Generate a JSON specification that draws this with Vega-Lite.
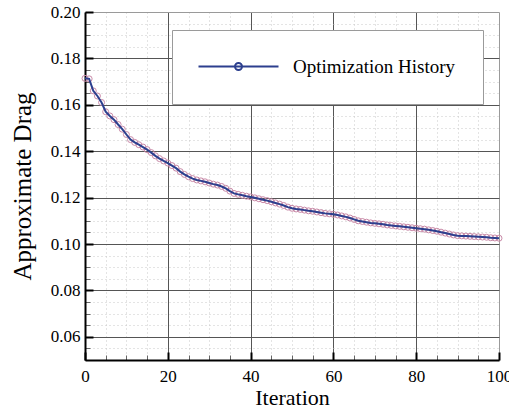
{
  "$schema": "https://vega.github.io/schema/vega-lite/v6.json",
  "width": 414,
  "height": 348,
  "autosize": {"type": "none"},
  "padding": {"left": 85, "top": 12, "right": 10, "bottom": 54},
  "config": {
    "view": {"stroke": null},
    "font": "Liberation Serif",
    "axis": {
      "labelFont": "Liberation Serif",
      "titleFont": "Liberation Serif",
      "labelColor": "#000000",
      "titleColor": "#000000",
      "titleFontWeight": "normal"
    }
  },
  "data": {
    "values": [
      {"iteration": 0, "drag": 0.1714}, {"iteration": 1, "drag": 0.1712}, {"iteration": 2, "drag": 0.1660},
      {"iteration": 3, "drag": 0.1638}, {"iteration": 4, "drag": 0.1610}, {"iteration": 5, "drag": 0.1570},
      {"iteration": 6, "drag": 0.1552}, {"iteration": 7, "drag": 0.1536}, {"iteration": 8, "drag": 0.1515},
      {"iteration": 9, "drag": 0.1495}, {"iteration": 10, "drag": 0.1472}, {"iteration": 11, "drag": 0.1450},
      {"iteration": 12, "drag": 0.1438}, {"iteration": 13, "drag": 0.1428}, {"iteration": 14, "drag": 0.1418},
      {"iteration": 15, "drag": 0.1407}, {"iteration": 16, "drag": 0.1394}, {"iteration": 17, "drag": 0.1380},
      {"iteration": 18, "drag": 0.1368}, {"iteration": 19, "drag": 0.1358}, {"iteration": 20, "drag": 0.1349},
      {"iteration": 21, "drag": 0.1338}, {"iteration": 22, "drag": 0.1327}, {"iteration": 23, "drag": 0.1312},
      {"iteration": 24, "drag": 0.1300}, {"iteration": 25, "drag": 0.1290}, {"iteration": 26, "drag": 0.1282},
      {"iteration": 27, "drag": 0.1276}, {"iteration": 28, "drag": 0.1272}, {"iteration": 29, "drag": 0.1268},
      {"iteration": 30, "drag": 0.1263}, {"iteration": 31, "drag": 0.1258}, {"iteration": 32, "drag": 0.1254},
      {"iteration": 33, "drag": 0.1248}, {"iteration": 34, "drag": 0.1240}, {"iteration": 35, "drag": 0.1228},
      {"iteration": 36, "drag": 0.1218}, {"iteration": 37, "drag": 0.1214}, {"iteration": 38, "drag": 0.1210},
      {"iteration": 39, "drag": 0.1206}, {"iteration": 40, "drag": 0.1203}, {"iteration": 41, "drag": 0.1199},
      {"iteration": 42, "drag": 0.1195}, {"iteration": 43, "drag": 0.1191}, {"iteration": 44, "drag": 0.1187},
      {"iteration": 45, "drag": 0.1182}, {"iteration": 46, "drag": 0.1177}, {"iteration": 47, "drag": 0.1172},
      {"iteration": 48, "drag": 0.1166}, {"iteration": 49, "drag": 0.1159}, {"iteration": 50, "drag": 0.1154},
      {"iteration": 51, "drag": 0.1151}, {"iteration": 52, "drag": 0.1149}, {"iteration": 53, "drag": 0.1146},
      {"iteration": 54, "drag": 0.1143}, {"iteration": 55, "drag": 0.1141}, {"iteration": 56, "drag": 0.1138},
      {"iteration": 57, "drag": 0.1135}, {"iteration": 58, "drag": 0.1132}, {"iteration": 59, "drag": 0.1130},
      {"iteration": 60, "drag": 0.1128}, {"iteration": 61, "drag": 0.1125}, {"iteration": 62, "drag": 0.1121},
      {"iteration": 63, "drag": 0.1117}, {"iteration": 64, "drag": 0.1112}, {"iteration": 65, "drag": 0.1106},
      {"iteration": 66, "drag": 0.1100}, {"iteration": 67, "drag": 0.1097}, {"iteration": 68, "drag": 0.1094},
      {"iteration": 69, "drag": 0.1091}, {"iteration": 70, "drag": 0.1089}, {"iteration": 71, "drag": 0.1087},
      {"iteration": 72, "drag": 0.1085}, {"iteration": 73, "drag": 0.1082}, {"iteration": 74, "drag": 0.1080},
      {"iteration": 75, "drag": 0.1078}, {"iteration": 76, "drag": 0.1076}, {"iteration": 77, "drag": 0.1074},
      {"iteration": 78, "drag": 0.1072}, {"iteration": 79, "drag": 0.1070}, {"iteration": 80, "drag": 0.1068},
      {"iteration": 81, "drag": 0.1066}, {"iteration": 82, "drag": 0.1064}, {"iteration": 83, "drag": 0.1061},
      {"iteration": 84, "drag": 0.1058}, {"iteration": 85, "drag": 0.1055}, {"iteration": 86, "drag": 0.1051},
      {"iteration": 87, "drag": 0.1047}, {"iteration": 88, "drag": 0.1043}, {"iteration": 89, "drag": 0.1039},
      {"iteration": 90, "drag": 0.1036}, {"iteration": 91, "drag": 0.1035}, {"iteration": 92, "drag": 0.1034},
      {"iteration": 93, "drag": 0.1033}, {"iteration": 94, "drag": 0.1032}, {"iteration": 95, "drag": 0.1031},
      {"iteration": 96, "drag": 0.1030}, {"iteration": 97, "drag": 0.1029}, {"iteration": 98, "drag": 0.1027},
      {"iteration": 99, "drag": 0.1026}, {"iteration": 100, "drag": 0.1025}
    ]
  },
  "layer": [
    {
      "description": "Minor grid: dotted lines and short inward ticks every 5 iterations / 0.005 drag",
      "mark": {"type": "point", "opacity": 0},
      "encoding": {
        "x": {
          "field": "iteration", "type": "quantitative",
          "scale": {"domain": [0, 100], "nice": false, "zero": false},
          "axis": {
            "orient": "bottom",
            "values": [5, 10, 15, 25, 30, 35, 45, 50, 55, 65, 70, 75, 85, 90, 95],
            "grid": true, "gridColor": "#c8c8c8", "gridDash": [1, 3], "gridWidth": 1,
            "ticks": true, "tickSize": -5, "tickColor": "#666666", "tickWidth": 1,
            "labels": false, "domain": false, "title": null
          }
        },
        "y": {
          "field": "drag", "type": "quantitative",
          "scale": {"domain": [0.05, 0.2], "nice": false, "zero": false},
          "axis": {
            "orient": "left",
            "values": [0.055, 0.065, 0.07, 0.075, 0.085, 0.09, 0.095, 0.105, 0.11, 0.115, 0.125, 0.13, 0.135, 0.145, 0.15, 0.155, 0.165, 0.17, 0.175, 0.185, 0.19, 0.195],
            "grid": true, "gridColor": "#c8c8c8", "gridDash": [1, 3], "gridWidth": 1,
            "ticks": true, "tickSize": -5, "tickColor": "#666666", "tickWidth": 1,
            "labels": false, "domain": false, "title": null
          }
        }
      }
    },
    {
      "description": "Markers at every iteration",
      "mark": {"type": "point", "shape": "circle", "filled": false, "size": 36, "stroke": "#c98aa8", "strokeWidth": 1, "opacity": 1},
      "encoding": {
        "x": {"field": "iteration", "type": "quantitative", "axis": null},
        "y": {"field": "drag", "type": "quantitative", "axis": null}
      }
    },
    {
      "description": "Optimization history line with the main axes and legend",
      "mark": {"type": "line", "strokeWidth": 2},
      "encoding": {
        "x": {
          "field": "iteration", "type": "quantitative",
          "axis": {
            "orient": "bottom",
            "values": [0, 20, 40, 60, 80, 100],
            "grid": true,
            "gridColor": {"condition": {"test": "datum.value == 100", "value": "#9a9a9a"}, "value": "#555555"},
            "gridWidth": 1,
            "ticks": true, "tickSize": -8, "tickColor": "#000000", "tickWidth": 2,
            "domain": true, "domainColor": "#000000", "domainWidth": 2,
            "labelFontSize": 17, "labelPadding": 16, "labelFlush": false,
            "title": "Iteration", "titleFontSize": 22, "titlePadding": 3
          }
        },
        "y": {
          "field": "drag", "type": "quantitative",
          "axis": {
            "orient": "left",
            "values": [0.06, 0.08, 0.1, 0.12, 0.14, 0.16, 0.18, 0.2],
            "format": ".2f",
            "grid": true,
            "gridColor": {"condition": {"test": "datum.value >= 0.2", "value": "#9a9a9a"}, "value": "#555555"},
            "gridWidth": 1,
            "ticks": true, "tickSize": -8, "tickColor": "#000000", "tickWidth": 2,
            "domain": true, "domainColor": "#000000", "domainWidth": 2,
            "labelFontSize": 17, "labelPadding": 13,
            "title": "Approximate Drag", "titleFontSize": 25, "titlePadding": 15
          }
        },
        "color": {
          "datum": "Optimization History",
          "scale": {"range": ["#2c3f8e"]},
          "legend": {
            "orient": "none", "legendX": 87, "legendY": 18,
            "title": null,
            "fillColor": "#ffffff", "strokeColor": "#9a9a9a",
            "padding": 27,
            "symbolType": "M-2,0H14M5.3,0A0.7,0.7 0 1,0 6.7,0A0.7,0.7 0 1,0 5.3,0",
            "symbolSize": 100, "symbolStrokeWidth": 2, "symbolStrokeColor": "#2c3f8e", "symbolFillColor": "transparent",
            "labelFont": "Liberation Serif", "labelFontSize": 19, "labelColor": "#000000", "labelOffset": 75,
            "labelLimit": 300
          }
        }
      }
    }
  ],
  "resolve": {"axis": {"x": "independent", "y": "independent"}}
}
